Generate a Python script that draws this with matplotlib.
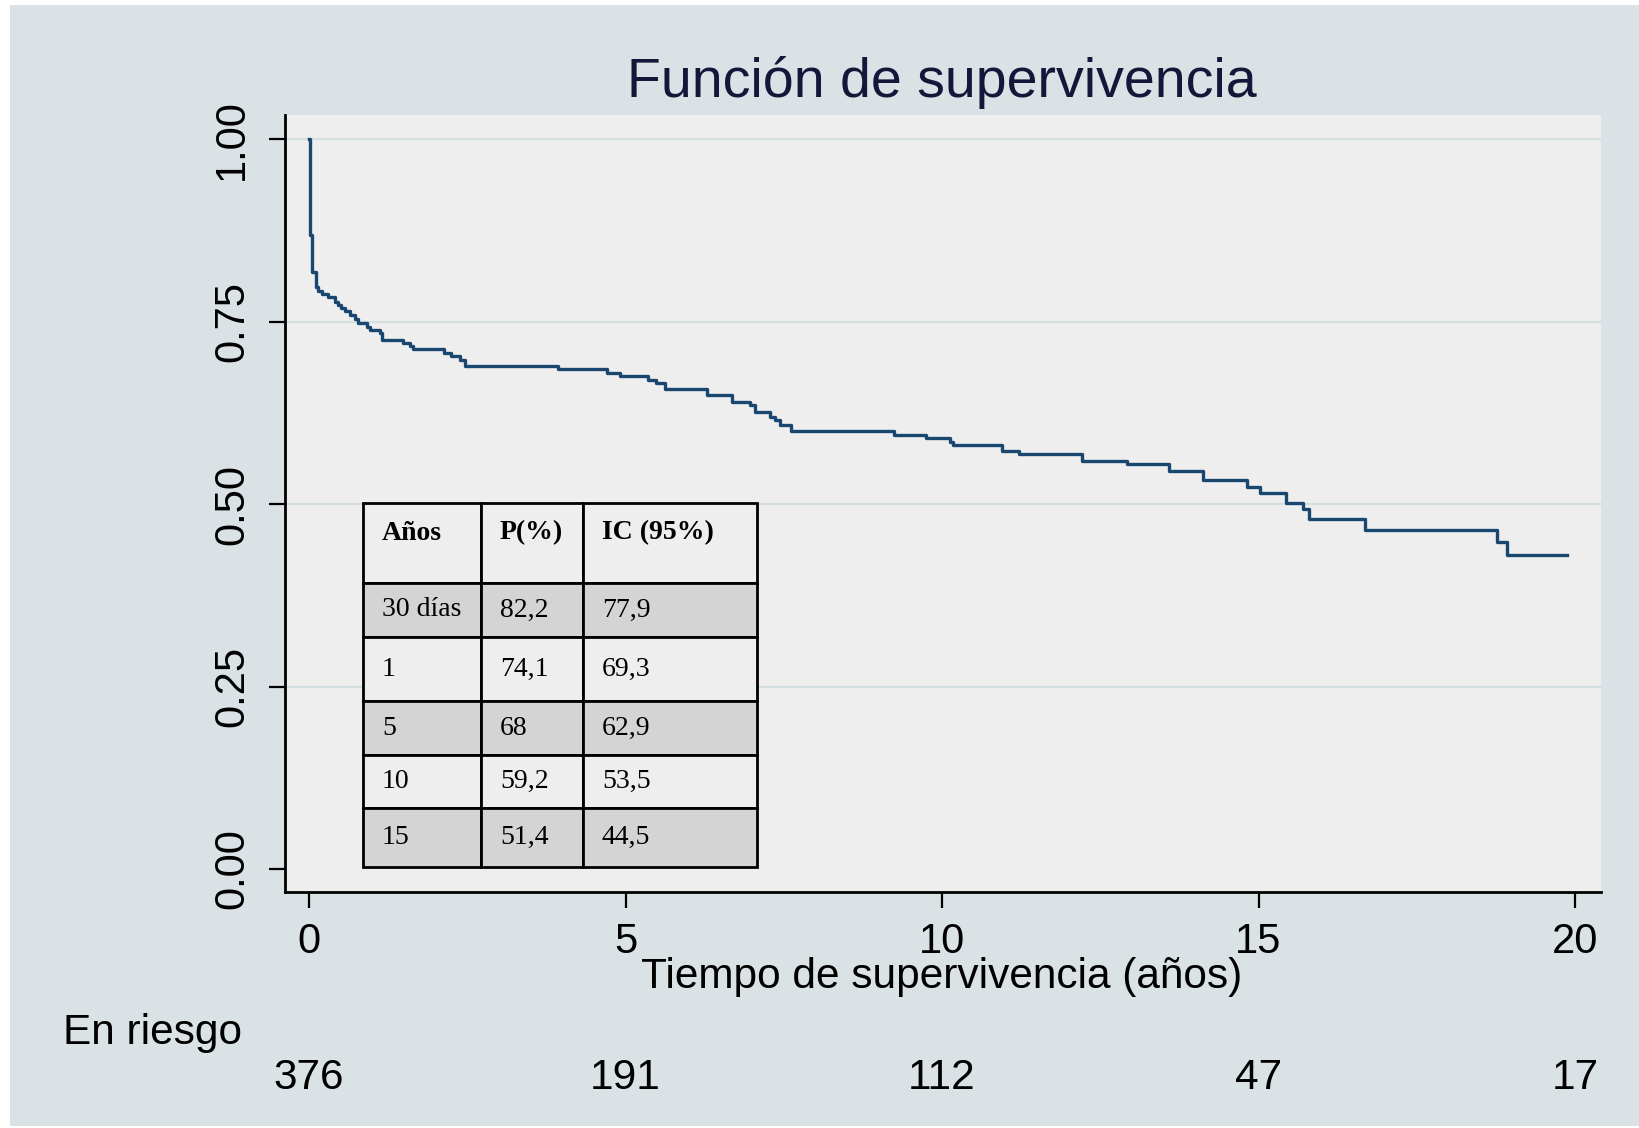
import matplotlib.pyplot as plt
import matplotlib.transforms as mtransforms
from matplotlib.patches import Rectangle

# Kaplan-Meier steps (time in years, survival)
tiempos = [0.0, 0.01, 0.05, 0.11, 0.14, 0.20, 0.30, 0.41, 0.46, 0.51, 0.57,
           0.65, 0.73, 0.78, 0.91, 0.96, 1.12, 1.16, 1.49, 1.59, 1.65, 2.13,
           2.24, 2.39, 2.46, 3.93, 4.70, 4.91, 5.36, 5.48, 5.62, 6.29, 6.68,
           6.96, 7.05, 7.28, 7.36, 7.44, 7.61, 9.24, 9.74, 10.13, 10.18,
           10.94, 11.22, 12.21, 12.92, 13.58, 14.12, 14.82, 15.02, 15.43,
           15.70, 15.80, 16.68, 18.76, 18.93]
superv = [1.0, 0.868, 0.818, 0.798, 0.792, 0.788, 0.784, 0.777, 0.773, 0.768,
          0.764, 0.759, 0.754, 0.748, 0.743, 0.738, 0.734, 0.725, 0.721, 0.716,
          0.712, 0.707, 0.703, 0.697, 0.6895, 0.685, 0.680, 0.675, 0.670,
          0.666, 0.658, 0.649, 0.640, 0.636, 0.626, 0.619, 0.615, 0.608,
          0.600, 0.595, 0.591, 0.585, 0.581, 0.573, 0.568, 0.559, 0.5555,
          0.5456, 0.533, 0.524, 0.5146, 0.502, 0.4927, 0.479, 0.465, 0.448,
          0.430]
t_final = 19.87

x_ticks = [0, 5, 10, 15, 20]
y_ticks = [0.0, 0.25, 0.5, 0.75, 1.0]
y_labels = ['0.00', '0.25', '0.50', '0.75', '1.00']
en_riesgo = [376, 191, 112, 47, 17]

cabecera = ['Años', 'P(%)', 'IC (95%)']
tabla_anos = ['30 días', '1', '5', '10', '15']
tabla_p = ['82,2', '74,1', '68', '59,2', '51,4']
tabla_ic = ['77,9', '69,3', '62,9', '53,5', '44,5']

W, H = 1639, 1128
fondo = '#dae2e5'
plot_bg = '#eeeeee'
navy = '#1a476f'

plt.rcParams['font.family'] = ['Liberation Sans', 'DejaVu Sans']

fig = plt.figure(figsize=(W / 100, H / 100), dpi=100)
fig.patch.set_facecolor('white')
fig.add_artist(Rectangle((10 / W, 2 / H), 1 - 10 / W, 1 - 7 / H,
                         transform=fig.transFigure, facecolor=fondo,
                         edgecolor='none', zorder=-10))

ax = fig.add_axes([285 / W, 1 - 892 / H, 1316 / W, 777 / H])
ax.set_facecolor(plot_bg)
ax.set_xlim(-0.38, 20.41)
ax.set_ylim(-0.0315, 1.033)

for y in y_ticks[1:]:
    ax.axhline(y, color='#d3dee1', lw=1.6, zorder=0)

ax.step(tiempos + [t_final], superv + [superv[-1]], where='post',
        color=navy, lw=2.4, zorder=3)

for s in ['top', 'right']:
    ax.spines[s].set_visible(False)
for s in ['left', 'bottom']:
    ax.spines[s].set_linewidth(2)

ax.set_xticks(x_ticks)
ax.set_xticklabels([str(v) for v in x_ticks])
ax.set_yticks(y_ticks)
ax.set_yticklabels(y_labels, rotation=90, va='center')
ax.tick_params(length=11.5, width=1.6, labelsize=30, direction='out')
ax.tick_params(axis='x', pad=10)
ax.tick_params(axis='y', pad=12)

ax.set_xlabel('Tiempo de supervivencia (años)', fontsize=30.5)
ax.xaxis.set_label_coords(0.499, (892 - 988) / 777)
ax.xaxis.label.set_va('baseline')

fig.text(942 / W, 1 - 97 / H, 'Función de supervivencia', fontsize=40,
         ha='center', va='baseline', color='#16163a')
fig.text(63 / W, 1 - 1044 / H, 'En riesgo', fontsize=30.5, va='baseline')

tr = mtransforms.blended_transform_factory(ax.transData, fig.transFigure)
for xv, n in zip(x_ticks, en_riesgo):
    ax.text(xv, 1 - 1089 / H, str(n), fontsize=30.5, ha='center',
            va='baseline', transform=tr)

# inset table (axes fraction)
col_x = [0.0593, 0.1489, 0.2264, 0.3587]
row_y = [0.5006, 0.3977, 0.3282, 0.2458, 0.1763, 0.1081, 0.0322]
filas = [cabecera] + [list(r) for r in zip(tabla_anos, tabla_p, tabla_ic)]
for i, fila in enumerate(filas):
    y0, y1 = row_y[i + 1], row_y[i]
    color = '#d4d4d4' if i % 2 == 1 else plot_bg
    for j, txt in enumerate(fila):
        x0, x1 = col_x[j], col_x[j + 1]
        ax.add_patch(Rectangle((x0, y0), x1 - x0, y1 - y0,
                               transform=ax.transAxes, facecolor=color,
                               edgecolor='black', lw=2, zorder=4))
        if i == 0:
            ty = y1 - 30 / 777
        else:
            ty = (y0 + y1) / 2
        ax.text(x0 + 19 / 1316, ty, txt, transform=ax.transAxes,
                fontsize=20, family=['Liberation Serif', 'DejaVu Serif'],
                fontweight='bold' if i == 0 else 'normal',
                ha='left', va='center', zorder=5)

fig.savefig('out.png', dpi=100, facecolor=fig.get_facecolor())
